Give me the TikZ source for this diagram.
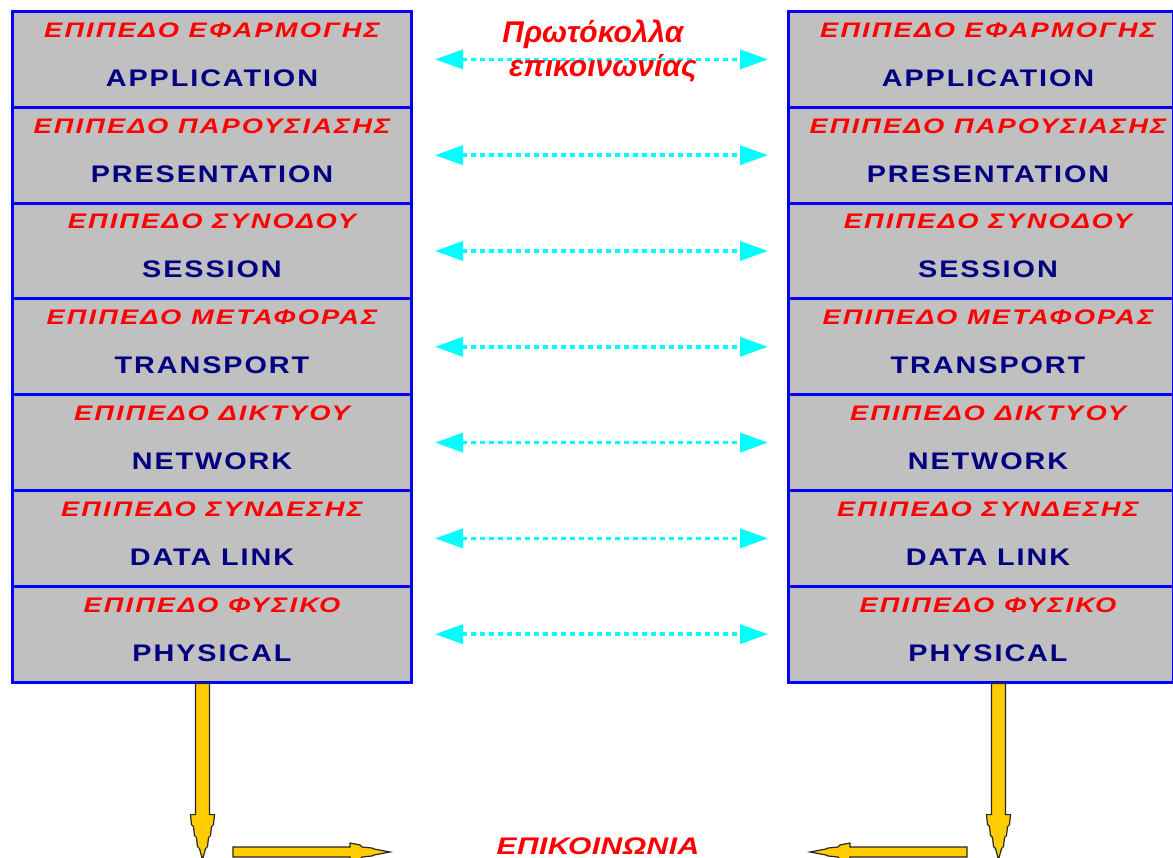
\documentclass[tikz,border=0pt]{standalone}
\usepackage{fontspec}
\setmainfont{Liberation Sans}
\newfontfamily\layergr[FakeStretch=1.3,LetterSpace=10]{Liberation Sans}
\newfontfamily\layeren[FakeStretch=1.2,LetterSpace=8]{Liberation Sans}
\newfontfamily\commfont[FakeStretch=1.25,LetterSpace=2]{Liberation Sans}
\usetikzlibrary{arrows.meta}

\definecolor{layerblue}{RGB}{0,0,255}
\definecolor{layergray}{RGB}{192,192,192}
\definecolor{navytext}{RGB}{0,0,128}
\definecolor{protocyan}{RGB}{0,255,255}
\definecolor{flowgold}{RGB}{255,204,0}

\tikzset{
  layerbox/.style={draw=layerblue, fill=layergray, line width=3pt,
    minimum width=399pt, minimum height=95.8pt, inner sep=0pt, anchor=north west},
  grlabel/.style={text=red, inner sep=0pt,
    font=\layergr\bfseries\itshape\fontsize{21}{21}\selectfont},
  enlabel/.style={text=navytext, inner sep=0pt,
    font=\layeren\bfseries\fontsize{24}{24}\selectfont},
  proto/.style={protocyan, line width=3.5pt, dash pattern=on 5pt off 4pt,
    {Triangle[length=28pt,width=19pt]}-{Triangle[length=28pt,width=19pt]}},
  bigarrow/.style={draw=black!85, fill=flowgold, line width=1.2pt, line join=miter},
  redtitle/.style={text=red, inner sep=0pt, anchor=base},
  % downward flow arrow, origin at the top of the shaft
  droparrow/.pic={
    \draw[bigarrow] (-7,0) -- (-7,131) -- (-12,131) -- (-11,141) -- (-9,143)
      -- (-8,152) -- (-6,154) -- (-5,163) -- (-3,165) -- (0,176)
      -- (3,165) -- (5,163) -- (6,154) -- (8,152) -- (9,143) -- (11,141)
      -- (12,131) -- (7,131) -- (7,0) -- cycle;
  },
  % horizontal flow arrow, origin at the tail, pointing to +x
  flowarrow/.pic={
    \draw[bigarrow] (0,-5) -- (117,-5) -- (117,-9) -- (127,-7) -- (129,-5)
      -- (139,-4) -- (141,-3) -- (157,0) -- (141,3) -- (139,4) -- (129,5)
      -- (127,7) -- (117,9) -- (117,5) -- (0,5) -- cycle;
  },
}

\begin{document}
\begin{tikzpicture}[x=1pt,y=-1pt]
  \useasboundingbox (0,0) rectangle (1173,858);

  \foreach \i/\gr/\en in {
      1/ΕΠΙΠΕΔΟ ΕΦΑΡΜΟΓΗΣ/APPLICATION,
      2/ΕΠΙΠΕΔΟ ΠΑΡΟΥΣΙΑΣΗΣ/PRESENTATION,
      3/ΕΠΙΠΕΔΟ ΣΥΝΟΔΟΥ/SESSION,
      4/ΕΠΙΠΕΔΟ ΜΕΤΑΦΟΡΑΣ/TRANSPORT,
      5/ΕΠΙΠΕΔΟ ΔΙΚΤΥΟΥ/NETWORK,
      6/ΕΠΙΠΕΔΟ ΣΥΝΔΕΣΗΣ/DATA LINK,
      7/ΕΠΙΠΕΔΟ ΦΥΣΙΚΟ/PHYSICAL}
  {
    \pgfmathsetmacro\rowtop{10+(\i-1)*95.8}
    % left and right protocol stacks
    \node[layerbox] (L\i) at (11,\rowtop) {};
    \node[layerbox, minimum width=385pt] (R\i) at (787,\rowtop) {};
    \node[grlabel] (Lg\i) at ([yshift=-20pt]L\i.north) {\gr};
    \node[enlabel] (Le\i) at ([yshift=-68pt]L\i.north) {\en};
    \node[grlabel] (Rg\i) at ([xshift=7pt,yshift=-20pt]R\i.north) {\gr};
    \node[enlabel] (Re\i) at ([xshift=7pt,yshift=-68pt]R\i.north) {\en};
    % peer-to-peer protocol link
    \draw[proto] ([xshift=22pt]L\i.east) -- ([xshift=-19pt]R\i.west);
  }

  \node[redtitle, font=\bfseries\itshape\fontsize{30}{30}\selectfont]
        (proto1) at (593,43) {Πρωτόκολλα};
  \node[redtitle, font=\bfseries\itshape\fontsize{30}{30}\selectfont]
        (proto2) at (603,77) {επικοινωνίας};

  % physical transmission
  \coordinate (ldrop) at ([xshift=-9.5pt]L7.south);
  \coordinate (rdrop) at ([xshift=17.5pt]R7.south);
  \pic at (ldrop) {droparrow};
  \pic at (rdrop) {droparrow};
  \coordinate (lflow) at (233,852);
  \coordinate (rflow) at (967,852);
  \pic at (lflow) {flowarrow};
  \pic[xscale=-1] at (rflow) {flowarrow};

  \node[redtitle, anchor=center, font=\commfont\bfseries\itshape\fontsize{24}{24}\selectfont]
        (comm) at (598,846) {ΕΠΙΚΟΙΝΩΝΙΑ};
\end{tikzpicture}
\end{document}
